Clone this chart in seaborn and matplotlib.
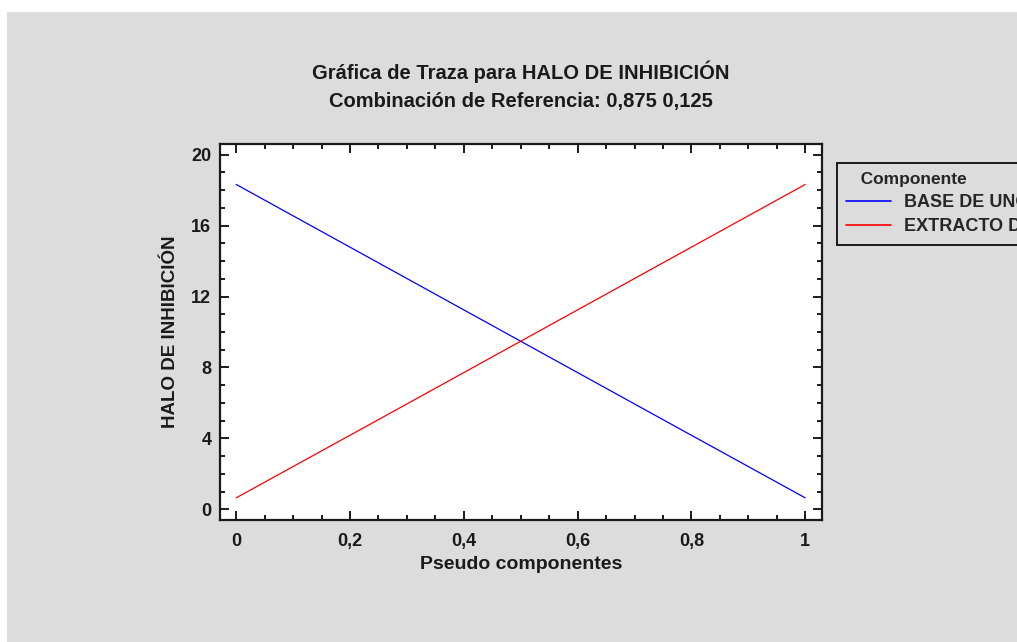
import numpy as np
import pandas as pd
import matplotlib.pyplot as plt
import matplotlib.patches as mpatches
from matplotlib.ticker import FixedLocator, FixedFormatter, MultipleLocator
import seaborn as sns


# Data
# ----------------------------
pseudo = [0.0, 0.25, 0.5, 0.75, 1.0]
base_halo = [18.32, 13.90, 9.48, 5.06, 0.65]
extracto_halo = [0.65, 5.06, 9.48, 13.90, 18.32]
componentes = ["BASE DE UNGÜENTO", "EXTRACTO DE PLANTA"]
colores = ["#0000ff", "#ff0000"]

x_ticks = [0, 0.2, 0.4, 0.6, 0.8, 1.0]
x_tick_labels = ["0", "0,2", "0,4", "0,6", "0,8", "1"]
y_ticks = [0, 4, 8, 12, 16, 20]
y_tick_labels = ["0", "4", "8", "12", "16", "20"]

df = pd.DataFrame({
    "Pseudo componentes": pseudo * 2,
    "HALO DE INHIBICIÓN": base_halo + extracto_halo,
    "Componente": [componentes[0]] * len(pseudo) + [componentes[1]] * len(pseudo),
})

sns.set_style("ticks")
plt.rcParams["font.family"] = ["Liberation Sans", "DejaVu Sans"]
plt.rcParams["font.weight"] = "bold"

fig = plt.figure(figsize=(10.17, 6.42), dpi=100)
fig.patch.set_facecolor("white")
# gray panel, offset from the top-left corner
fig.patches.append(mpatches.Rectangle((7 / 1017, 0), 1, 1 - 12 / 642,
                                      transform=fig.transFigure,
                                      facecolor="#dcdcdc", edgecolor="none",
                                      zorder=-10))

ax = fig.add_axes([0.216, 0.19, 0.592, 0.5857])
ax.set_facecolor("white")

sns.lineplot(data=df, x="Pseudo componentes", y="HALO DE INHIBICIÓN",
             hue="Componente", palette=colores, linewidth=0.9, ax=ax,
             legend=False)

ax.set_xlim(-0.029, 1.029)
ax.set_ylim(-0.6, 20.6)
ax.xaxis.set_major_locator(FixedLocator(x_ticks))
ax.xaxis.set_major_formatter(FixedFormatter(x_tick_labels))
ax.yaxis.set_major_locator(FixedLocator(y_ticks))
ax.yaxis.set_major_formatter(FixedFormatter(y_tick_labels))
ax.xaxis.set_minor_locator(MultipleLocator(0.05))
ax.yaxis.set_minor_locator(MultipleLocator(1))

ax.tick_params(which="both", direction="in", top=True, right=True,
               width=1.4, colors="#1a1a1a", labelsize=13)
ax.tick_params(axis="x", pad=9)
ax.tick_params(axis="y", pad=6)
ax.tick_params(which="major", length=6.5)
ax.tick_params(which="minor", length=3.5)
for s in ax.spines.values():
    s.set_linewidth(1.6)
    s.set_color("#1a1a1a")

ax.set_xlabel("Pseudo componentes", fontsize=14, fontweight="bold",
              color="#1a1a1a", labelpad=5)
ax.set_ylabel("HALO DE INHIBICIÓN", fontsize=13.5, fontweight="bold",
              color="#1a1a1a", labelpad=9)

fig.text(0.512, 1 - 72 / 642, "Gráfica de Traza para HALO DE INHIBICIÓN",
         ha="center", va="center", fontsize=14.5, fontweight="bold",
         color="#1a1a1a")
fig.text(0.512, 1 - 101 / 642, "Combinación de Referencia: 0,875 0,125",
         ha="center", va="center", fontsize=14.5, fontweight="bold",
         color="#1a1a1a")

# legend runs off the right edge, like the original export
handles = [plt.Line2D([], [], color=c, linewidth=1.2) for c in colores]
leg = fig.legend(handles, componentes, title="   Componente",
                 loc="upper left", bbox_to_anchor=(837 / 1017, 1 - 163 / 642),
                 borderaxespad=0, alignment="left",
                 fontsize=13, title_fontsize=12.5, frameon=True,
                 fancybox=False, edgecolor="#1a1a1a", facecolor="#dcdcdc",
                 framealpha=1, borderpad=0.5, handlelength=2.5,
                 handletextpad=0.7, labelspacing=0.4)
leg.get_title().set_fontweight("bold")
leg.get_frame().set_linewidth(1.4)

fig.savefig("out.png", dpi=100)
